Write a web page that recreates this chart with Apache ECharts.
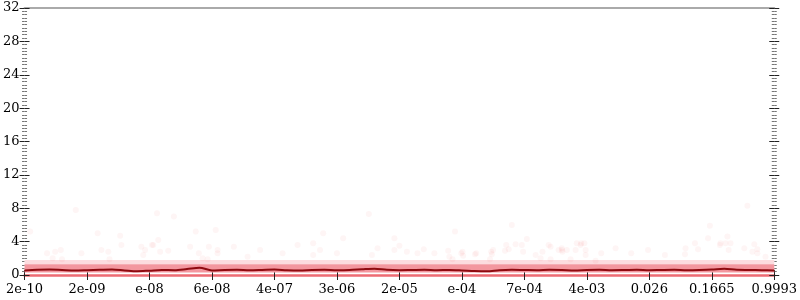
<!DOCTYPE html>
<html><head><meta charset="utf-8">
<script src="https://cdn.jsdelivr.net/npm/echarts@6/dist/echarts.min.js"></script>
<style>html,body{margin:0;padding:0;background:#fff}#c{width:800px;height:300px}</style>
</head><body><div id="c"></div>
<script>
var xLabels = ['2e-10','2e-09','e-08','6e-08','4e-07','3e-06','2e-05','e-04','7e-04','4e-03','0.026','0.1665','0.9993'];
var yMin = 0, yMax = 32, yStep = 4;
// running (median) line, sampled every 0.2 label step
var lineStep = 0.2;
var lineValues = [0.55,0.62,0.65,0.6,0.55,0.58,0.62,0.66,0.55,0.45,0.52,0.6,0.58,0.72,0.88,0.55,0.6,0.62,0.56,0.6,
  0.65,0.58,0.55,0.6,0.62,0.58,0.6,0.68,0.75,0.62,0.58,0.6,0.62,0.57,0.6,0.55,0.48,0.45,0.58,0.62,
  0.6,0.58,0.62,0.6,0.55,0.6,0.62,0.58,0.6,0.63,0.57,0.6,0.62,0.58,0.6,0.65,0.75,0.62,0.6,0.58,0.55];
// dense band of points
var bandCore = [0.3, 1.3];
var bandFringe = [1.3, 1.8];
// scattered points above the band
var pointsX = [0.82,2.12,2.39,1.17,1.53,2.74,3.06,0.09,1.55,2.04,2.14,2.65,2.95,0.58,0.49,0.36,1.23,1.34,0.91,1.87,1.93,2.17,2.30,2.79,2.85,0.45,0.60,1.36,1.90,3.09,2.93,
  7.80,6.89,8.04,7.86,7.96,8.90,8.96,6.00,6.39,6.12,6.56,6.78,7.01,7.21,7.47,7.50,7.69,7.75,7.98,8.29,8.42,8.55,8.61,8.68,8.82,6.80,6.85,7.02,7.45,7.48,8.26,8.42,8.74,9.14,
  11.57,10.97,10.94,11.25,11.14,11.22,11.30,11.68,10.78,11.73,10.57,11.65,
  4.78,2.06,3.35,3.09,3.57,3.77,4.13,4.62,4.73,5.00,5.10,4.37,4.62,
  5.92,5.65,5.92,6.29,6.99,7.23,7.71,8.18,8.39,8.60,8.91,8.98,5.56,
  8.60,8.84,8.98,9.23,9.46,9.71,9.98,10.25,10.58,10.73,11.13,11.27,11.52,11.73,11.86,5.51];
var pointsY = [7.8,7.4,7.0,5.0,4.7,5.2,5.4,5.2,3.6,3.6,4.2,3.4,3.4,3.0,2.8,2.6,3.0,2.8,2.6,3.4,3.0,2.8,2.9,2.6,2.0,2.0,1.9,1.9,2.4,2.6,1.9,
  6.0,5.2,4.3,3.7,3.6,3.6,3.8,3.5,3.1,2.8,2.6,2.9,2.8,2.5,2.8,3.0,2.9,3.1,2.8,2.8,3.4,3.0,2.8,3.0,3.0,2.2,1.9,2.3,1.9,2.5,2.0,1.9,1.9,1.7,
  8.3,5.9,4.4,4.6,3.8,3.8,3.8,3.7,3.1,3.1,2.5,2.8,
  5.0,3.6,3.4,3.0,2.2,3.0,2.6,2.4,3.0,2.6,4.4,3.6,3.8,
  4.4,3.2,3.0,2.6,2.6,2.6,3.6,2.4,3.6,3.0,3.8,3.0,2.4,
  3.2,3.8,2.4,2.6,3.2,2.6,3.0,2.4,3.2,3.8,3.6,3.0,3.2,2.6,2.2,7.3];

var FONT = 'DejaVu Serif';
var lineData = lineValues.map(function(v,i){ return [i*lineStep, v]; });
var scatterData = pointsX.map(function(x,i){ return [x, pointsY[i]]; });
var xMax = xLabels.length - 1;

function xAx(opts){
  return Object.assign({type:'value', min:0, max:xMax, interval:1, position:'bottom',
    splitLine:{show:false}, axisLine:{show:false, onZero:false}, axisTick:{show:false}, axisLabel:{show:false}}, opts);
}
function yAx(opts){
  return Object.assign({type:'value', min:yMin, max:yMax, interval:yStep, position:'left',
    splitLine:{show:false}, axisLine:{show:false, onZero:false},
    axisTick:{show:true, length:5, lineStyle:{color:'#222', width:1}},
    minorTick:{show:true, splitNumber:10, length:2.5, lineStyle:{color:'#777', width:1}},
    axisLabel:{show:false}}, opts);
}

var chart = echarts.init(document.getElementById('c'), null, {renderer:'canvas'});
chart.setOption({
  animation:false,
  grid:{left:22.5, right:23, top:8, bottom:25, containLabel:false},
  xAxis:[
    xAx({axisLine:{show:true, onZero:false, lineStyle:{color:'#ee6b73', width:2.5}},
      axisTick:{show:true, length:5, lineStyle:{color:'#222'}},
      axisLabel:{show:true, margin:8, color:'#000', fontFamily:FONT, fontSize:13,
        formatter:function(v){ return xLabels[Math.round(v)] || ''; }}}),
    xAx({axisTick:{show:true, inside:true, length:5, lineStyle:{color:'#222'}}}),
    xAx({position:'top', axisLine:{show:true, onZero:false, lineStyle:{color:'#aaa', width:2}}})
  ],
  yAxis:[
    yAx({axisLabel:{show:true, margin:5, color:'#000', fontFamily:FONT, fontSize:13}}),
    yAx({axisTick:{show:true, inside:true, length:5, lineStyle:{color:'#222'}}}),
    yAx({position:'right'}),
    yAx({position:'right', axisTick:{show:true, inside:true, length:5, lineStyle:{color:'#222'}}})
  ],
  series:[
    {type:'scatter', data:scatterData, symbolSize:6, itemStyle:{color:'rgba(235,70,80,0.07)'}, z:2},
    {type:'line', data:lineData, showSymbol:false, smooth:0.3, lineStyle:{color:'#8e0a10', width:2}, z:5,
      markArea:{silent:true, data:[
        [{yAxis:bandFringe[0], itemStyle:{color:'#fcdcdf'}}, {yAxis:bandFringe[1]}],
        [{yAxis:bandCore[0], itemStyle:{color:'#f3979f'}}, {yAxis:bandCore[1]}]
      ]}}
  ]
});
</script></body></html>
